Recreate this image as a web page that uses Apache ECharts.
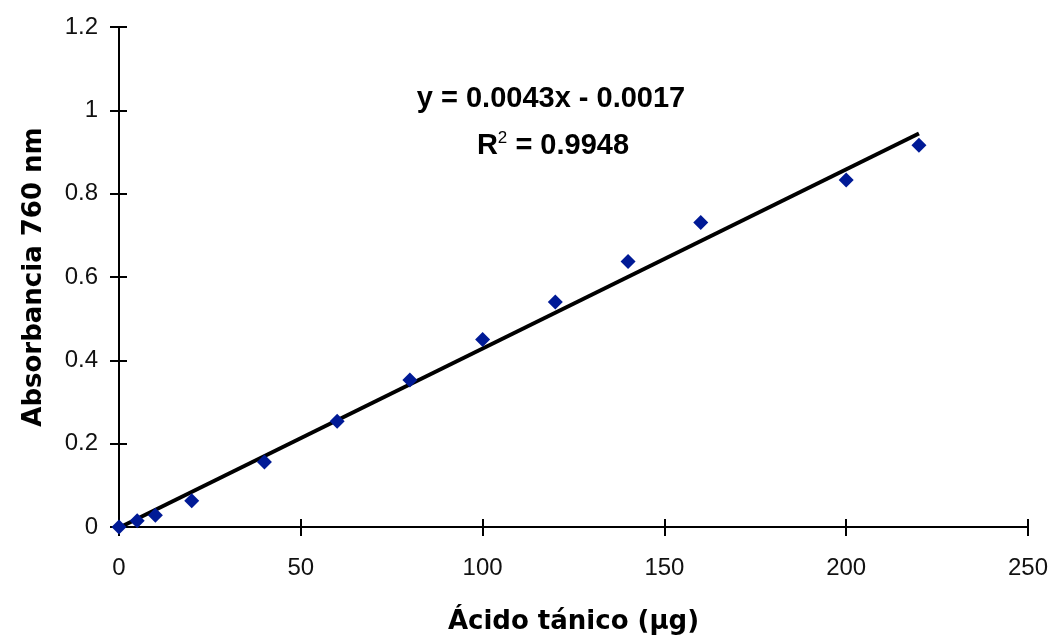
<!DOCTYPE html>
<html>
<head>
<meta charset="utf-8">
<script src="https://cdn.jsdelivr.net/npm/echarts@6/dist/echarts.min.js"></script>
<style>
  html, body { margin: 0; padding: 0; background: #fff; }
  #chart { width: 1051px; height: 636px; }
</style>
</head>
<body>
<div id="chart"></div>
<script>
// datos
var acido = [0, 5, 10, 20, 40, 60, 80, 100, 120, 140, 160, 200, 220];
var absorbancia = [0, 0.015, 0.028, 0.063, 0.156, 0.254, 0.353, 0.45, 0.54, 0.637, 0.731, 0.833, 0.916];
var pendiente = 0.0043;
var intercepto = -0.0017;
var rango = [0, 220];
var ecuacion = "y = 0.0043x - 0.0017";
var r2 = "0.9948";

var puntos = acido.map(function (x, i) { return [x, absorbancia[i]]; });
var tendencia = rango.map(function (x) { return [x, pendiente * x + intercepto]; });

var labelFont = { color: "#111", fontSize: 24, fontFamily: "Liberation Sans, Arial, sans-serif" };
var nameFont = { color: "#000", fontSize: 26, fontWeight: "bold", fontFamily: "DejaVu Sans, sans-serif" };

var myChart = echarts.init(document.getElementById("chart"));
var opt = {
  animation: false,
  grid: { left: 119, right: 23, top: 27, bottom: 109, outerBoundsMode: "none" },
  xAxis: [
    {
      type: "value", min: 0, max: 250, interval: 50,
      splitLine: { show: false },
      axisLine: { onZero: false, lineStyle: { color: "#000", width: 2 } },
      axisTick: { length: 9, lineStyle: { color: "#000", width: 2 } },
      axisLabel: Object.assign({ margin: 29 }, labelFont),
      name: "Ácido tánico (µg)",
      nameLocation: "middle",
      nameGap: 82,
      nameTextStyle: nameFont
    },
    {
      type: "value", min: 0, max: 250, interval: 50, position: "bottom",
      splitLine: { show: false },
      axisLine: { show: false },
      axisTick: { inside: true, length: 8, lineStyle: { color: "#000", width: 2 } },
      axisLabel: { show: false }
    }
  ],
  yAxis: [
    {
      type: "value", min: 0, max: 1.2, interval: 0.2,
      splitLine: { show: false },
      axisLine: { show: true, onZero: false, lineStyle: { color: "#000", width: 2 } },
      axisTick: { show: true, length: 9, lineStyle: { color: "#000", width: 2 } },
      axisLabel: Object.assign({ margin: 21, formatter: function (v) { return String(Math.round(v * 10) / 10); } }, labelFont),
      name: "Absorbancia 760 nm",
      nameLocation: "middle",
      nameGap: 72,
      nameTextStyle: nameFont
    },
    {
      type: "value", min: 0, max: 1.2, interval: 0.2, position: "left",
      splitLine: { show: false },
      axisLine: { show: false },
      axisTick: { show: true, inside: true, length: 8, lineStyle: { color: "#000", width: 2 } },
      axisLabel: { show: false }
    }
  ],
  graphic: [
    {
      type: "text", x: 551, y: 99,
      style: {
        text: ecuacion, align: "center", verticalAlign: "middle",
        fill: "#000", font: "bold 29px Liberation Sans, Arial, sans-serif"
      }
    },
    {
      type: "text", x: 553, y: 146,
      style: {
        text: "R{sup|2} = " + r2, align: "center", verticalAlign: "middle",
        fill: "#000", font: "bold 29px Liberation Sans, Arial, sans-serif",
        rich: { sup: { fontSize: 17, fontWeight: "normal", verticalAlign: "top", padding: [0, 0, 16, 0], fontFamily: "Liberation Sans, Arial, sans-serif" } }
      }
    }
  ],
  series: [
    {
      type: "line",
      data: tendencia,
      showSymbol: false,
      lineStyle: { color: "#000", width: 4 },
      z: 3
    },
    {
      type: "scatter",
      data: puntos,
      symbol: "diamond",
      symbolSize: 15,
      itemStyle: { color: "#001a96", opacity: 1 },
      z: 4
    }
  ]
};
myChart.setOption(opt);
</script>
</body>
</html>
